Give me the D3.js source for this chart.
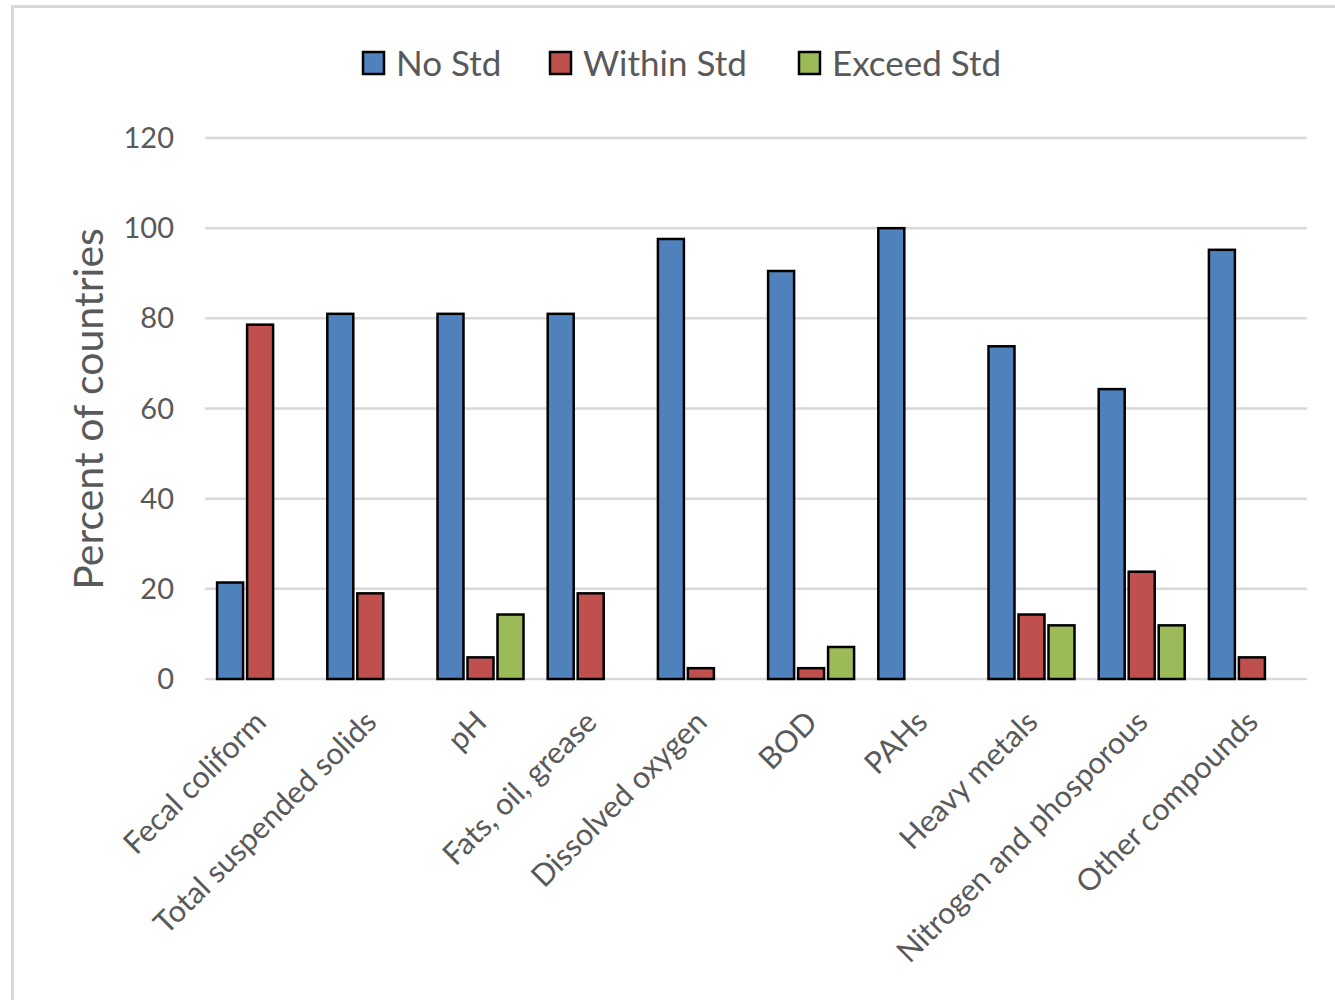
<!DOCTYPE html>
<html><head><meta charset="utf-8">
<script src="https://cdn.jsdelivr.net/npm/d3@7"></script>
<style>body{margin:0;background:#fff;} text{font-family:Lato,"Open Sans",sans-serif;}</style>
</head><body>
<svg id="chart" width="1335" height="1000"></svg>
<script>
const categories = ["Fecal coliform","Total suspended solids","pH","Fats, oil, grease","Dissolved oxygen","BOD","PAHs","Heavy metals","Nitrogen and phosporous","Other compounds"];
const seriesNames = ["No Std","Within Std","Exceed Std"];
const noStd     = [21.4, 81.0, 81.0, 81.0, 97.6, 90.5, 100, 73.8, 64.3, 95.2];
const withinStd = [78.6, 19.0, 4.8, 19.0, 2.4, 2.4, 0, 14.3, 23.8, 4.8];
const exceedStd = [0, 0, 14.3, 0, 0, 7.1, 0, 11.9, 11.9, 0];
const yTicks = [0,20,40,60,80,100,120];
const colors = ["#4f81bd","#c0504d","#9bbb59"];

const svg = d3.select("#chart");
svg.append("rect").attr("x",12.5).attr("y",6.5).attr("width",1340).attr("height",1000)
  .attr("fill","#fff").attr("stroke","#d9d9d9").attr("stroke-width",3);

const pLeft=205, pRight=1307, pTop=138, pBottom=679;
const x = d3.scaleBand().domain(categories).range([pLeft,pRight]).paddingInner(0).paddingOuter(0);
const y = d3.scaleLinear().domain([0,120]).range([pBottom,pTop]);

// grid
svg.append("g").selectAll("line").data(yTicks).join("line")
  .attr("x1",pLeft).attr("x2",pRight).attr("y1",d=>y(d)).attr("y2",d=>y(d))
  .attr("stroke","#d9d9d9").attr("stroke-width",2.5);

// y tick labels
svg.append("g").selectAll("text").data(yTicks).join("text")
  .attr("x",174).attr("y",d=>y(d)).attr("dy","0.35em").attr("text-anchor","end")
  .attr("font-size",29).attr("fill","#595959").text(d=>d);

svg.append("text").attr("transform","translate(103,409) rotate(-90)")
  .attr("text-anchor","middle").attr("font-size",41).attr("fill","#595959").text("Percent of countries");

// bars
const barW = 26, step = 30;
const x1 = d3.scaleBand().domain([0,1,2]).range([0, step*3]);
const series = [noStd, withinStd, exceedStd];
const data = [];
categories.forEach((c,i)=>series.forEach((s,j)=>{ if (s[i]>0) data.push({c,j,v:s[i]}); }));
svg.append("g").selectAll("rect").data(data).join("rect")
  .attr("x",d=>x(d.c)+x.bandwidth()/2 - step*1.5 + x1(d.j) + 2)
  .attr("y",d=>y(d.v)).attr("width",barW).attr("height",d=>y(0)-y(d.v))
  .attr("fill",d=>colors[d.j]).attr("stroke","#000").attr("stroke-width",2.5);

// x labels
svg.append("g").selectAll("text").data(categories).join("text")
  .attr("transform",d=>`translate(${x(d)+x.bandwidth()/2+8},${724}) rotate(-45)`)
  .attr("text-anchor","end").attr("font-size",30.5).attr("fill","#595959").text(d=>d);

// legend
const legX = [363, 550, 799];
const lg = svg.append("g").selectAll("g").data(seriesNames).join("g")
  .attr("transform",(d,i)=>`translate(${legX[i]},52)`);
lg.append("rect").attr("width",21).attr("height",22).attr("fill",(d,i)=>colors[i])
  .attr("stroke","#000").attr("stroke-width",2.5);
lg.append("text").attr("x",33).attr("y",11).attr("dy","0.36em").attr("font-size",35)
  .attr("fill","#595959").text(d=>d);
</script>
</body></html>
